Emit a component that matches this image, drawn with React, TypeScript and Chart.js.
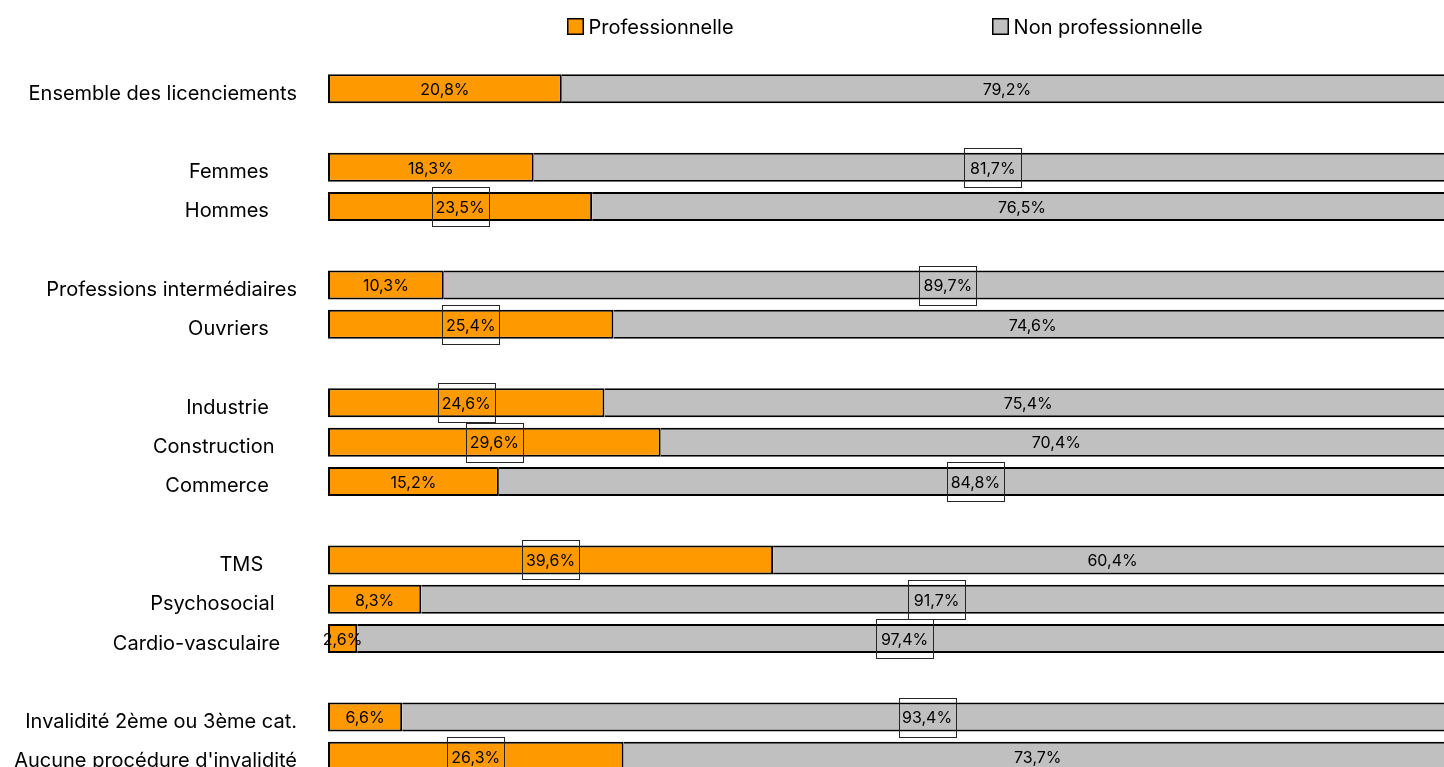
import React, { useEffect, useRef } from "react";
import { Chart, registerables } from "chart.js";

Chart.register(...registerables);

// Category labels; blank entries leave a gap between groups
const categories = [
  "Ensemble des licenciements",
  "",
  "Femmes     ",
  "Hommes     ",
  "",
  "Professions intermédiaires",
  "Ouvriers     ",
  "",
  "Industrie     ",
  "Construction    ",
  "Commerce     ",
  "",
  "TMS      ",
  "Psychosocial    ",
  "Cardio-vasculaire   ",
  "",
  "Invalidité 2ème ou 3ème cat.",
  "Aucune procédure d'invalidité",
];

const professionnelle = [20.8, null, 18.3, 23.5, null, 10.3, 25.4, null, 24.6, 29.6, 15.2, null, 39.6, 8.3, 2.6, null, 6.6, 26.3];
const nonProfessionnelle = [79.2, null, 81.7, 76.5, null, 89.7, 74.6, null, 75.4, 70.4, 84.8, null, 60.4, 91.7, 97.4, null, 93.4, 73.7];

// Shares that stand out from the overall figure get a framed label
const proFramed = [false, false, false, true, false, false, true, false, true, true, false, false, true, false, false, false, false, true];
const nonProFramed = [false, false, true, false, false, true, false, false, false, false, true, false, false, true, true, false, true, false];

const FONT = "Inter";

const fmt = (v: number) => v.toFixed(1).replace(".", ",") + "%";

// Percentage inside each segment, with an optional thin frame
const valueLabels = {
  id: "valueLabels",
  afterDatasetsDraw(chart: any, _args: any, opts: any) {
    const ctx = chart.ctx;
    ctx.save();
    ctx.font = `${opts.size}px ${FONT}`;
    ctx.fillStyle = "#000";
    ctx.textAlign = "center";
    ctx.textBaseline = "middle";
    chart.data.datasets.forEach((ds: any, di: number) => {
      const meta = chart.getDatasetMeta(di);
      meta.data.forEach((bar: any, i: number) => {
        const v = ds.data[i];
        if (v == null) return;
        const { x, y, base } = bar.getProps(["x", "y", "base"], true);
        const cx = (x + base) / 2;
        ctx.fillText(fmt(v), cx, y + 1.5);
        if (ds.framed && ds.framed[i]) {
          ctx.strokeStyle = "#262626";
          ctx.lineWidth = 1;
          ctx.strokeRect(
            Math.round(cx - opts.frameW / 2) + 0.5,
            Math.round(y - opts.frameH / 2) + 0.5,
            opts.frameW,
            opts.frameH
          );
        }
      });
    });
    ctx.restore();
  },
};

// Single-row legend above the bars
const legendRow = {
  id: "legendRow",
  afterDraw(chart: any, _args: any, opts: any) {
    const { ctx, chartArea } = chart;
    ctx.save();
    ctx.font = `${opts.size}px ${FONT}`;
    ctx.textBaseline = "middle";
    ctx.textAlign = "left";
    const items = chart.data.datasets.map((ds: any) => {
      const tw = ctx.measureText(ds.label).width;
      return { ds, w: opts.box + opts.boxGap + tw };
    });
    const total = items.reduce((s: number, it: any) => s + it.w, 0) + opts.gap * (items.length - 1);
    let x = (chartArea.left + chartArea.right) / 2 - total / 2 + opts.shift;
    const y = opts.y;
    items.forEach((it: any) => {
      const bx = Math.round(x);
      const by = Math.round(y - opts.box / 2);
      ctx.fillStyle = it.ds.backgroundColor;
      ctx.fillRect(bx, by, opts.box, opts.box);
      ctx.strokeStyle = "#000";
      ctx.lineWidth = 1.5;
      ctx.strokeRect(bx + 0.75, by + 0.75, opts.box - 1.5, opts.box - 1.5);
      ctx.fillStyle = "#000";
      ctx.fillText(it.ds.label, x + opts.box + opts.boxGap, y + 1.5);
      x += it.w + opts.gap;
    });
    ctx.restore();
  },
};

export default function App() {
  const ref = useRef<HTMLCanvasElement>(null);

  useEffect(() => {
    if (!ref.current) return;
    const chart = new Chart(ref.current, {
      type: "bar",
      data: {
        labels: categories,
        datasets: [
          {
            label: "Professionnelle",
            data: professionnelle,
            backgroundColor: "#FF9900",
            borderColor: "#000",
            borderWidth: 2,
            borderSkipped: false,
            barPercentage: 0.739,
            categoryPercentage: 1,
            framed: proFramed,
          } as any,
          {
            label: "Non professionnelle",
            data: nonProfessionnelle,
            backgroundColor: "#C0C0C0",
            borderColor: "#000",
            borderWidth: 2,
            borderSkipped: "start",
            barPercentage: 0.739,
            categoryPercentage: 1,
            framed: nonProFramed,
          } as any,
        ],
      },
      options: {
        indexAxis: "y",
        responsive: true,
        maintainAspectRatio: false,
        animation: false,
        devicePixelRatio: 1,
        layout: { padding: { left: 0, top: 69, right: 12, bottom: 14 } },
        plugins: {
          legend: { display: false },
          tooltip: { enabled: false },
          valueLabels: { size: 16, frameW: 57, frameH: 39 },
          legendRow: { size: 20, box: 17, boxGap: 5, gap: 258, y: 26, shift: -5.4 },
        } as any,
        scales: {
          x: { stacked: true, display: false, min: 0, max: 100 },
          y: {
            stacked: true,
            grid: { display: false, drawTicks: false },
            border: { display: false },
            ticks: { font: { family: FONT, size: 20 }, color: "#000", padding: 31, labelOffset: 5, autoSkip: false },
            afterFit(scale: any) {
              // fixed label column; the tick padding should not eat into the plot height
              scale.width = 328;
              scale.paddingTop = 0;
              scale.paddingBottom = 0;
            },
          },
        },
      },
      plugins: [valueLabels, legendRow],
    });
    return () => chart.destroy();
  }, []);

  return (
    <div style={{ position: "fixed", left: 0, top: 0, width: "100vw", height: "100vh", overflow: "hidden", background: "#fff" }}>
      <div style={{ position: "relative", width: 1464, height: 790 }}>
        <canvas ref={ref} />
      </div>
    </div>
  );
}
